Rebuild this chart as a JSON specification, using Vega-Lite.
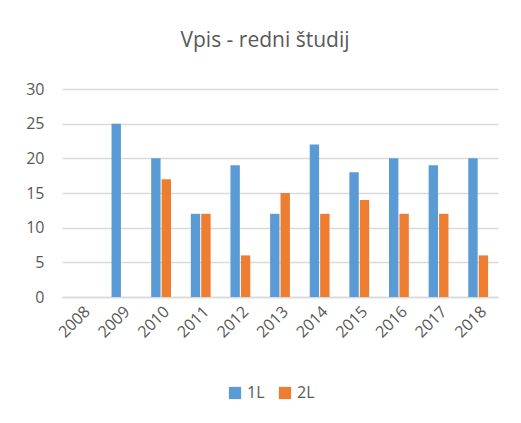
{
  "$schema": "https://vega.github.io/schema/vega-lite/v6.json",
  "autosize": {"type": "none"},
  "width": 436,
  "height": 208,
  "padding": {"left": 62, "top": 89, "right": 23, "bottom": 126},
  "background": "white",
  "title": {
    "text": "Vpis - redni študij",
    "font": "Open Sans",
    "fontSize": 21,
    "fontWeight": "normal",
    "color": "#595959",
    "anchor": "middle",
    "dx": -15,
    "offset": 30
  },
  "data": {
    "values": [
      {"leto": "2008", "serija": "1L", "vpis": null},
      {"leto": "2008", "serija": "2L", "vpis": null},
      {"leto": "2009", "serija": "1L", "vpis": 25},
      {"leto": "2009", "serija": "2L", "vpis": null},
      {"leto": "2010", "serija": "1L", "vpis": 20},
      {"leto": "2010", "serija": "2L", "vpis": 17},
      {"leto": "2011", "serija": "1L", "vpis": 12},
      {"leto": "2011", "serija": "2L", "vpis": 12},
      {"leto": "2012", "serija": "1L", "vpis": 19},
      {"leto": "2012", "serija": "2L", "vpis": 6},
      {"leto": "2013", "serija": "1L", "vpis": 12},
      {"leto": "2013", "serija": "2L", "vpis": 15},
      {"leto": "2014", "serija": "1L", "vpis": 22},
      {"leto": "2014", "serija": "2L", "vpis": 12},
      {"leto": "2015", "serija": "1L", "vpis": 18},
      {"leto": "2015", "serija": "2L", "vpis": 14},
      {"leto": "2016", "serija": "1L", "vpis": 20},
      {"leto": "2016", "serija": "2L", "vpis": 12},
      {"leto": "2017", "serija": "1L", "vpis": 19},
      {"leto": "2017", "serija": "2L", "vpis": 12},
      {"leto": "2018", "serija": "1L", "vpis": 20},
      {"leto": "2018", "serija": "2L", "vpis": 6}
    ]
  },
  "mark": {"type": "bar"},
  "encoding": {
    "x": {
      "field": "leto",
      "type": "nominal",
      "scale": {
        "domain": ["2008", "2009", "2010", "2011", "2012", "2013", "2014", "2015", "2016", "2017", "2018"],
        "paddingInner": 0.5,
        "paddingOuter": 0.25
      },
      "axis": {
        "title": null,
        "labelAngle": -45,
        "labelFont": "Open Sans",
        "labelFontSize": 16,
        "labelColor": "#595959",
        "ticks": false,
        "domain": true,
        "domainColor": "#d9d9d9",
        "domainWidth": 1.5,
        "labelPadding": 6
      }
    },
    "xOffset": {
      "field": "serija",
      "type": "nominal",
      "scale": {"domain": ["1L", "2L"], "paddingInner": 0.1}
    },
    "y": {
      "field": "vpis",
      "type": "quantitative",
      "scale": {"domain": [0, 30], "nice": false},
      "axis": {
        "title": null,
        "values": [0, 5, 10, 15, 20, 25, 30],
        "labelFont": "Open Sans",
        "labelFontSize": 16,
        "labelColor": "#595959",
        "ticks": false,
        "domain": false,
        "gridColor": "#d9d9d9",
        "gridWidth": 1.5,
        "labelPadding": 18
      }
    },
    "color": {
      "field": "serija",
      "type": "nominal",
      "scale": {"domain": ["1L", "2L"], "range": ["#5B9BD5", "#ED7D31"]},
      "legend": {
        "title": null,
        "orient": "none",
        "legendX": 165,
        "legendY": 296,
        "direction": "horizontal",
        "symbolType": "square",
        "symbolSize": 150,
        "symbolStrokeWidth": 0,
        "labelFont": "Open Sans",
        "labelFontSize": 16,
        "labelColor": "#595959",
        "columnPadding": 12
      }
    }
  },
  "config": {"view": {"stroke": null}}
}
